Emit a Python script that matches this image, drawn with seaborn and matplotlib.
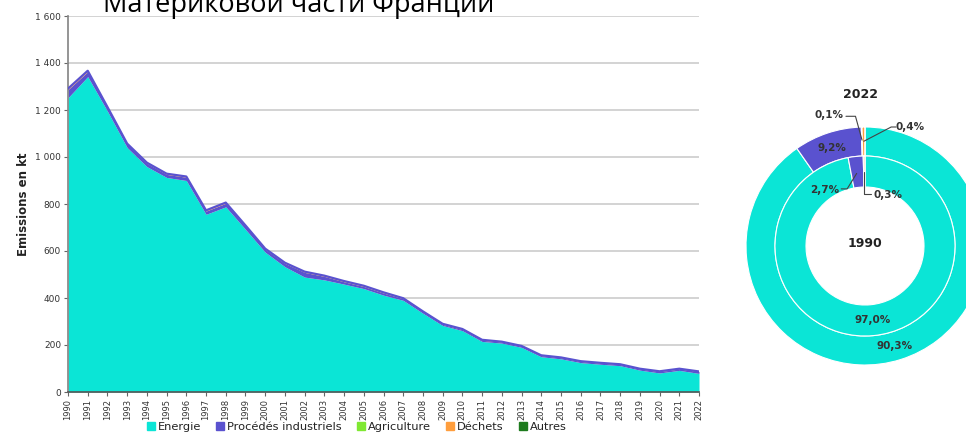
import numpy as np
import pandas as pd
import matplotlib
matplotlib.use("Agg")
from matplotlib import pyplot as plt
from matplotlib.lines import Line2D
import seaborn as sns

# emissions par secteur (kt)
years = list(range(1990, 2023))
energie = [1252, 1342, 1195, 1040, 959, 913, 900, 756, 788, 692, 595, 533, 489, 477, 459, 440,
           412, 390, 335, 283, 261, 215, 208, 190, 150, 141, 125, 118, 112, 93, 81, 92, 79]
procedes = [35, 21, 15, 14, 14, 13, 14, 14, 15, 14, 12, 14, 20, 15, 10, 9,
            9, 7, 6, 5, 5, 5, 5, 5, 5, 5, 5, 5, 5, 5, 6, 6, 8]
agriculture = [0.0, 0.0, 0.0, 0.0, 0.0, 0.0, 0.0, 0.0, 0.0, 0.0, 0.1, 0.1, 0.1, 0.1, 0.1, 0.1,
               0.1, 0.1, 0.1, 0.1, 0.1, 0.1, 0.1, 0.1, 0.1, 0.1, 0.1, 0.1, 0.1, 0.1, 0.1, 0.1, 0.1]
dechets = [4, 4, 3, 3, 3, 3, 3, 3, 3, 3, 3, 3, 3, 3, 3, 3,
           3, 2, 2, 2, 2, 2, 1, 1, 1, 1, 1, 1, 1, 1, 1, 1, 0.4]
autres = [0, 0, 0, 0, 0, 0, 0, 0, 0, 0, 0, 0, 0, 0, 0, 0,
          0, 0, 0, 0, 0, 0, 0, 0, 0, 0, 0, 0, 0, 0, 0, 0, 0]

secteurs = ["Energie", "Procédés industriels", "Agriculture", "Déchets", "Autres"]
couleurs = ["#0BE5D6", "#5A52CF", "#7FE832", "#FF9E3D", "#1E7B1E"]

# parts (%) pour les anneaux
parts_1990 = [97.0, 2.7, 0.0, 0.3, 0.0]
parts_2022 = [90.3, 9.2, 0.1, 0.4, 0.0]

yticks = [0, 200, 400, 600, 800, 1000, 1200, 1400, 1600]
ytick_labels = ["0", "200", "400", "600", "800", "1 000", "1 200", "1 400", "1 600"]

sns.set_theme(style="white")
plt.rcParams['font.family'] = ['DejaVu Sans']

W, H = 966, 440
fig = plt.figure(figsize=(W / 100, H / 100), dpi=100)

ax = fig.add_axes([68 / W, 1 - 392 / H, (699 - 68) / W, (392 - 16) / H])
ax.stackplot(years, energie, procedes, agriculture, dechets, autres, colors=couleurs,
             zorder=2, linewidth=0)
# bord haut du bloc "procédés" pour qu'il reste visible
haut = np.array(energie) + np.array(procedes) + np.array(agriculture) + np.array(dechets)
df = pd.DataFrame({"annee": years, "haut": haut})
sns.lineplot(data=df, x="annee", y="haut", ax=ax, color=couleurs[1], linewidth=1.6, zorder=3)
ax.set_xlim(1990, 2022)
ax.set_ylim(0, 1600)
ax.set_xlabel("")
ax.set_yticks(yticks)
ax.set_yticklabels(ytick_labels, fontsize=6.5, color="#333333")
ax.set_xticks(years)
ax.set_xticklabels([str(y) for y in years], rotation=90, fontsize=6, color="#333333")
ax.yaxis.grid(True, color="#cccccc", linewidth=1.2, zorder=0)
ax.set_axisbelow(True)
for s in ["top", "right"]:
    ax.spines[s].set_visible(False)
ax.spines["left"].set_color("#888888")
ax.spines["bottom"].set_color("#555555")
ax.spines["bottom"].set_linewidth(1.2)
ax.tick_params(axis="both", which="both", length=3, width=0.8, color="#666666", pad=2,
               left=True, bottom=True)
ax.set_ylabel("Emissions en kt", fontsize=8.5, fontweight="bold", color="#222222", labelpad=4)

# titre coupé en haut
fig.text(103 / W, 1 - 12 / H, "Материковой части Франции", fontsize=19.5,
         family=["Open Sans", "DejaVu Sans"], color="black", va="baseline", ha="left")

# légende
handles = [Line2D([], [], marker="s", linestyle="none", markersize=5.5, color=c) for c in couleurs]
fig.legend(handles, secteurs, loc="lower center", ncol=5, bbox_to_anchor=(357 / W, -0.005),
           frameon=False, fontsize=8.2, handlelength=0.6, handletextpad=0.3, columnspacing=1.4,
           labelcolor="#222222")

# anneaux 1990 / 2022
R = 119
cx, cy = 865, 246
pax = fig.add_axes([(cx - R) / W, 1 - (cy + R) / H, 2 * R / W, 2 * R / H])
pax.pie(parts_2022, radius=1.0, colors=couleurs, startangle=90, counterclock=False,
        wedgeprops=dict(width=29 / R, edgecolor="white", linewidth=0.8))
pax.pie(parts_1990, radius=90 / R, colors=couleurs, startangle=90, counterclock=False,
        wedgeprops=dict(width=31 / R, edgecolor="white", linewidth=0.8))
pax.set_xlim(-1, 1)
pax.set_ylim(-1, 1)
pax.set_aspect("equal")
pax.axis("off")

lab = dict(fontsize=7.5, fontweight="bold", color="#333333", ha="center", va="center")
pax.text(-0.04, 1.27, "2022", fontsize=9, fontweight="bold", color="#222222", ha="center", va="center")
pax.text(0.0, 0.02, "1990", fontsize=9, fontweight="bold", color="#222222", ha="center", va="center")
pax.text(-0.28, 0.82, "9,2%", **lab)
pax.text(-0.34, 0.47, "2,7%", **lab)
pax.text(-0.30, 1.10, "0,1%", **lab)
pax.text(0.38, 1.00, "0,4%", **lab)
pax.text(0.19, 0.43, "0,3%", **lab)
pax.text(0.06, -0.62, "97,0%", **lab)
pax.text(0.25, -0.84, "90,3%", **lab)

ln = dict(color="#444444", linewidth=0.8, clip_on=False)
pax.plot([-0.16, -0.08, -0.025], [1.09, 1.09, 0.89], **ln)
pax.plot([0.26, 0.22, -0.01], [1.0, 1.0, 0.88], **ln)
pax.plot([-0.01, -0.01, 0.05], [0.62, 0.44, 0.44], **ln)
pax.plot([-0.2, -0.15, -0.07], [0.48, 0.48, 0.61], **ln)

fig.savefig("out.png", dpi=100)
